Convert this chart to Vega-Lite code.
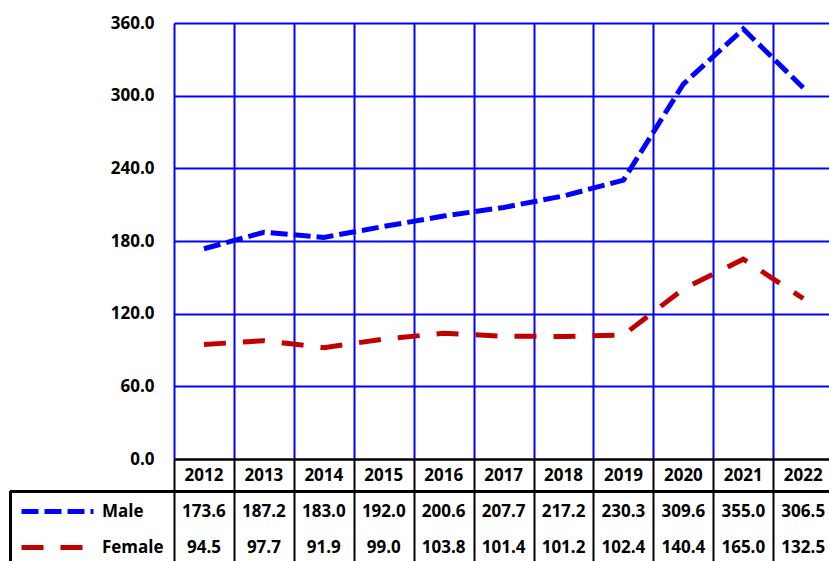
{
  "$schema": "https://vega.github.io/schema/vega-lite/v6.json",
  "width": 655,
  "height": 436,
  "autosize": {"type": "none"},
  "padding": {"left": 174, "top": 23, "right": 0, "bottom": 102},
  "background": "white",
  "config": {
    "view": {"stroke": null},
    "font": "Open Sans",
    "legend": {
      "orient": "none",
      "legendX": -137,
      "legendY": 468,
      "title": null,
      "padding": 0,
      "symbolType": "M-2,0H2",
      "symbolSize": 1296,
      "symbolStrokeWidth": 5,
      "labelFont": "Open Sans",
      "labelFontWeight": "bold",
      "labelFontSize": 17,
      "labelColor": "black",
      "labelOffset": 24,
      "rowPadding": 5
    }
  },
  "data": {
    "values": [
      {"year": 2012, "Male": 173.6, "Female": 94.5},
      {"year": 2013, "Male": 187.2, "Female": 97.7},
      {"year": 2014, "Male": 183.0, "Female": 91.9},
      {"year": 2015, "Male": 192.0, "Female": 99.0},
      {"year": 2016, "Male": 200.6, "Female": 103.8},
      {"year": 2017, "Male": 207.7, "Female": 101.4},
      {"year": 2018, "Male": 217.2, "Female": 101.2},
      {"year": 2019, "Male": 230.3, "Female": 102.4},
      {"year": 2020, "Male": 309.6, "Female": 140.4},
      {"year": 2021, "Male": 355.0, "Female": 165.0},
      {"year": 2022, "Male": 306.5, "Female": 132.5}
    ]
  },
  "layer": [
    {
      "layer": [
        {
          "transform": [{"fold": ["Male", "Female"], "as": ["sex", "value"]}],
          "mark": {"type": "line", "strokeWidth": 5, "strokeCap": "butt", "strokeJoin": "miter"},
          "encoding": {
            "x": {
              "field": "year",
              "type": "quantitative",
              "scale": {"domain": [2011.5, 2022.43], "nice": false, "zero": false},
              "axis": {
                "values": [2011.5, 2012.5, 2013.5, 2014.5, 2015.5, 2016.5, 2017.5, 2018.5, 2019.5, 2020.5, 2021.5],
                "title": null,
                "labels": false,
                "grid": true,
                "gridColor": "#0000FF",
                "gridWidth": 2,
                "gridOpacity": 1,
                "ticks": true,
                "tickColor": "black",
                "tickWidth": 2,
                "tickSize": 110,
                "domain": true,
                "domainColor": "black",
                "domainWidth": 2
              }
            },
            "y": {
              "field": "value",
              "type": "quantitative",
              "scale": {"domain": [0, 360], "nice": false, "zero": false},
              "axis": {
                "values": [0, 60, 120, 180, 240, 300, 360],
                "format": ".1f",
                "title": null,
                "grid": true,
                "gridColor": {"condition": {"test": "datum.value === 0", "value": "black"}, "value": "#0000FF"},
                "gridWidth": 2,
                "gridOpacity": 1,
                "domain": false,
                "ticks": false,
                "labelPadding": 20,
                "labelFont": "Open Sans",
                "labelFontWeight": "bold",
                "labelFontSize": 17,
                "labelColor": "black"
              }
            },
            "color": {
              "field": "sex",
              "type": "nominal",
              "scale": {"domain": ["Male", "Female"], "range": ["#0000FF", "#C00000"]},
              "legend": {"title": null}
            },
            "strokeDash": {
              "field": "sex",
              "type": "nominal",
              "scale": {"domain": ["Male", "Female"], "range": [[17, 6], [22, 17]]},
              "legend": {"title": null}
            }
          }
        },
        {
          "mark": {"type": "rule", "color": "black", "strokeWidth": 2},
          "encoding": {
            "x": {"datum": 2008.77},
            "x2": {"datum": 2022.43},
            "y": {"datum": -26.7}
          }
        },
        {
          "mark": {"type": "rule", "color": "black", "strokeWidth": 2},
          "encoding": {
            "x": {"datum": 2008.77},
            "y": {"datum": -26.7},
            "y2": {"datum": -95}
          }
        }
      ]
    },
    {
      "layer": [
        {
          "mark": {"type": "text", "font": "Open Sans", "fontWeight": "bold", "fontSize": 17, "color": "black", "baseline": "middle"},
          "encoding": {
            "x": {"field": "year", "type": "quantitative"},
            "y": {
              "datum": "Year",
              "type": "nominal",
              "scale": {"type": "point", "domain": ["Year", "Male", "Female"], "range": [452.5, 524.5], "padding": 0},
              "axis": null
            },
            "text": {"field": "year", "type": "quantitative", "format": "d"}
          }
        },
        {
          "transform": [{"fold": ["Male", "Female"], "as": ["sex", "value"]}],
          "mark": {"type": "text", "font": "Open Sans", "fontWeight": "bold", "fontSize": 17, "color": "black", "baseline": "middle"},
          "encoding": {
            "x": {"field": "year", "type": "quantitative"},
            "y": {
              "field": "sex",
              "type": "nominal",
              "scale": {"type": "point", "domain": ["Year", "Male", "Female"], "range": [452.5, 524.5], "padding": 0},
              "axis": null
            },
            "text": {"field": "value", "type": "quantitative", "format": ".1f"}
          }
        }
      ]
    }
  ],
  "resolve": {"scale": {"y": "independent"}}
}
